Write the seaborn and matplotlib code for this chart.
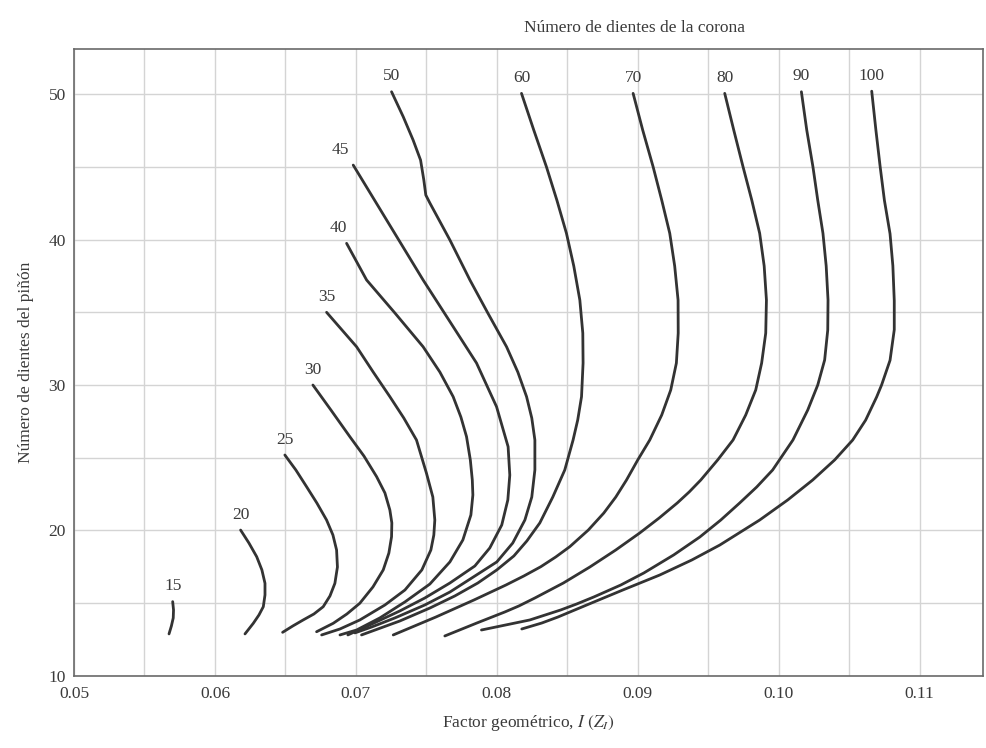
import numpy as np
import pandas as pd
import matplotlib
matplotlib.use("Agg")
import matplotlib.pyplot as plt
import seaborn as sns

# factor geometrico I (x) vs dientes del piñon (y), one curve per corona
i15 = [0.0570, 0.05706, 0.05704, 0.05691, 0.05674]
n15 = [15.11, 14.54, 13.99, 13.44, 12.89]

i20 = [0.06182, 0.06241, 0.06296, 0.06333, 0.06355, 0.06355, 0.06343, 0.06312,
       0.06272, 0.06213]
n20 = [20.03, 19.14, 18.2, 17.29, 16.37, 15.57, 14.76, 14.19, 13.62, 12.89]

i25 = [0.06496, 0.06574, 0.0665, 0.06723, 0.06792, 0.06837, 0.06863, 0.06869,
       0.06851, 0.06816, 0.06768, 0.06702, 0.06626, 0.06553, 0.0648]
n25 = [25.19, 24.16, 23.01, 21.89, 20.72, 19.69, 18.66, 17.49, 16.37, 15.5,
       14.76, 14.26, 13.85, 13.44, 13.0]

i30 = [0.06695, 0.06823, 0.06957, 0.07057, 0.07147, 0.07206, 0.07241, 0.07255,
       0.07253, 0.07234, 0.07194, 0.07121, 0.07028, 0.06936, 0.06839, 0.06721]
n30 = [30.0, 28.28, 26.45, 25.12, 23.7, 22.58, 21.41, 20.52, 19.57, 18.45,
       17.29, 16.12, 15.0, 14.26, 13.62, 13.04]

i35 = [0.06792, 0.07005, 0.07123, 0.07241, 0.0734, 0.0743, 0.07501, 0.07546,
       0.0756, 0.07553, 0.07532, 0.07468, 0.07348, 0.07206, 0.07028, 0.06887,
       0.06757]
n35 = [35.0, 32.63, 30.89, 29.2, 27.73, 26.22, 23.93, 22.3, 20.72, 19.69,
       18.66, 17.29, 15.91, 14.88, 13.85, 13.23, 12.82]

i40 = [0.06934, 0.07076, 0.07277, 0.07477, 0.07596, 0.0769, 0.07745, 0.07785,
       0.07812, 0.07826, 0.0783, 0.07816, 0.07759, 0.07667, 0.07525, 0.07348,
       0.0717, 0.07005, 0.06887]
n40 = [39.74, 37.22, 34.95, 32.63, 30.89, 29.2, 27.8, 26.45, 24.85, 23.47,
       22.44, 21.07, 19.35, 17.84, 16.32, 15.09, 13.99, 13.16, 12.82]

i45 = [0.06981, 0.07227, 0.07477, 0.07667, 0.07856, 0.07998, 0.0808, 0.08092,
       0.08078, 0.08035, 0.0795, 0.07844, 0.07667, 0.07489, 0.07312, 0.07113,
       0.06943]
n45 = [45.12, 41.2, 37.22, 34.36, 31.51, 28.51, 25.76, 23.81, 22.1, 20.38,
       18.8, 17.56, 16.39, 15.36, 14.47, 13.57, 12.82]

i50 = [0.07253, 0.07336, 0.07406, 0.07459, 0.07482, 0.07496, 0.07525, 0.07667,
       0.07809, 0.07936, 0.08069, 0.08149, 0.08211, 0.08248, 0.0827, 0.0827,
       0.08248, 0.08199, 0.08113, 0.08, 0.07823, 0.07667, 0.07489, 0.07277,
       0.07113, 0.06993]
n50 = [50.16, 48.44, 46.84, 45.46, 44.09, 43.06, 42.51, 39.97, 37.22, 34.95,
       32.63, 30.89, 29.2, 27.73, 26.22, 24.16, 22.3, 20.72, 19.14, 17.84,
       16.74, 15.77, 14.88, 13.99, 13.37, 12.96]

i60 = [0.08175, 0.08262, 0.08352, 0.08426, 0.08494, 0.08546, 0.08589, 0.0861,
       0.08612, 0.08601, 0.08574, 0.08541, 0.08482, 0.08397, 0.08305, 0.08213,
       0.08121, 0.08, 0.07865, 0.07702, 0.07525, 0.07312, 0.0704]
n60 = [50.05, 47.53, 45.0, 42.71, 40.43, 38.18, 35.84, 33.57, 31.51, 29.2,
       27.6, 26.22, 24.16, 22.3, 20.52, 19.28, 18.25, 17.29, 16.39, 15.5,
       14.67, 13.78, 12.82]

i70 = [0.08967, 0.09035, 0.09109, 0.0917, 0.09227, 0.09262, 0.09286, 0.09287,
       0.09274, 0.09234, 0.0917, 0.09085, 0.0900, 0.0892, 0.08844, 0.08759,
       0.08649, 0.08518, 0.08418, 0.08312, 0.08191, 0.08064, 0.07837, 0.07567,
       0.07265]
n70 = [50.05, 47.53, 45.0, 42.71, 40.43, 38.18, 35.84, 33.57, 31.51, 29.66,
       27.94, 26.22, 24.85, 23.47, 22.3, 21.2, 20.03, 18.89, 18.18, 17.51,
       16.87, 16.25, 15.22, 14.05, 12.82]

i80 = [0.09617, 0.09681, 0.09747, 0.09809, 0.09865, 0.09897, 0.09913, 0.09908,
       0.09879, 0.09837, 0.09766, 0.09676, 0.09567, 0.09447, 0.09365, 0.0928,
       0.09152, 0.09014, 0.08844, 0.0866, 0.08472, 0.0827, 0.08156, 0.08057,
       0.07858, 0.07631]
n80 = [50.05, 47.53, 45.0, 42.71, 40.43, 38.18, 35.84, 33.57, 31.51, 29.66,
       27.94, 26.22, 24.85, 23.47, 22.65, 21.89, 20.86, 19.83, 18.66, 17.49,
       16.39, 15.36, 14.81, 14.4, 13.64, 12.75]

i90 = [0.10161, 0.10199, 0.10243, 0.10277, 0.10314, 0.10337, 0.1035, 0.10348,
       0.10326, 0.10277, 0.10206, 0.10101, 0.09957, 0.09844, 0.09723, 0.09589,
       0.0944, 0.09255, 0.09043, 0.08879, 0.08688, 0.08567, 0.08454, 0.08234,
       0.07891]
n90 = [50.16, 47.53, 45.0, 42.71, 40.43, 38.18, 35.84, 33.78, 31.72, 30.0,
       28.28, 26.22, 24.16, 22.99, 21.89, 20.72, 19.55, 18.32, 17.08, 16.25,
       15.43, 14.95, 14.54, 13.85, 13.16]

i100 = [0.1066, 0.1069, 0.1072, 0.1075, 0.1079, 0.1081, 0.1082, 0.1082, 0.1079,
        0.1073, 0.10695, 0.10617, 0.10525, 0.10397, 0.10241, 0.10064, 0.09865,
        0.09582, 0.09383, 0.09156, 0.08894, 0.08638, 0.08433, 0.08319, 0.08177]
n100 = [50.2, 47.5, 45.0, 42.7, 40.4, 38.2, 35.8, 33.8, 31.7, 30.0, 29.18,
        27.59, 26.22, 24.85, 23.47, 22.1, 20.72, 19.0, 17.97, 16.94, 15.91,
        14.88, 14.05, 13.64, 13.23]

corona = [15, 20, 25, 30, 35, 40, 45, 50, 60, 70, 80, 90, 100]
xs = [i15, i20, i25, i30, i35, i40, i45, i50, i60, i70, i80, i90, i100]
ys = [n15, n20, n25, n30, n35, n40, n45, n50, n60, n70, n80, n90, n100]

# long table for seaborn
rows = []
for g, xx, yy in zip(corona, xs, ys):
    for k, (a, b) in enumerate(zip(xx, yy)):
        rows.append((g, k, a, b))
df = pd.DataFrame(rows, columns=["corona", "k", "I", "Np"])

sns.set_style("whitegrid")
plt.rcParams["font.family"] = ["Liberation Serif", "DejaVu Serif"]
plt.rcParams["mathtext.fontset"] = "stix"

txt = "#3a3a3a"
fig = plt.figure(figsize=(9.87, 7.48), dpi=100)
ax = fig.add_axes([0.075, 0.0963, 0.921, 0.8382])

sns.lineplot(data=df, x="I", y="Np", units="corona", estimator=None, sort=False,
             color="#333333", lw=2.0, ax=ax, legend=False)

# label offsets in points (label sits above the curve start)
dx = {45: -9, 40: -6}
for g, xx, yy in zip(corona, xs, ys):
    ax.annotate(str(g), (xx[0], yy[0]), xytext=(dx.get(g, 0), 11),
                textcoords="offset points", ha="center", va="center",
                fontsize=12.5, color=txt)

ax.set_xlim(0.05, 0.1145)
ax.set_ylim(10, 53.1)
ax.set_xticks(np.arange(0.05, 0.1101, 0.01))
ax.set_xticklabels(["0.05", "0.06", "0.07", "0.08", "0.09", "0.10", "0.11"])
ax.set_xticks(np.arange(0.055, 0.115, 0.01), minor=True)
ax.set_yticks([10, 20, 30, 40, 50])
ax.set_yticks([15, 25, 35, 45], minor=True)
ax.grid(which="both", color="#d4d4d4", lw=1.0)
ax.tick_params(axis="both", which="both", length=0, labelsize=12.5,
               labelcolor=txt)
ax.tick_params(axis="x", pad=7)
ax.tick_params(axis="y", pad=6)
for s in ax.spines.values():
    s.set_color("#6a6a6a")
    s.set_linewidth(1.2)

ax.set_xlabel(r"Factor geométrico, $I\ (Z_I)$", fontsize=12.5, color=txt,
              labelpad=8)
ax.set_ylabel("Número de dientes del piñón", fontsize=12.5, color=txt,
              labelpad=10)
fig.text(0.643, 0.962, "Número de dientes de la corona", ha="center",
         va="center", fontsize=12.5, color=txt)

fig.savefig("out.png", dpi=100, facecolor="white")
